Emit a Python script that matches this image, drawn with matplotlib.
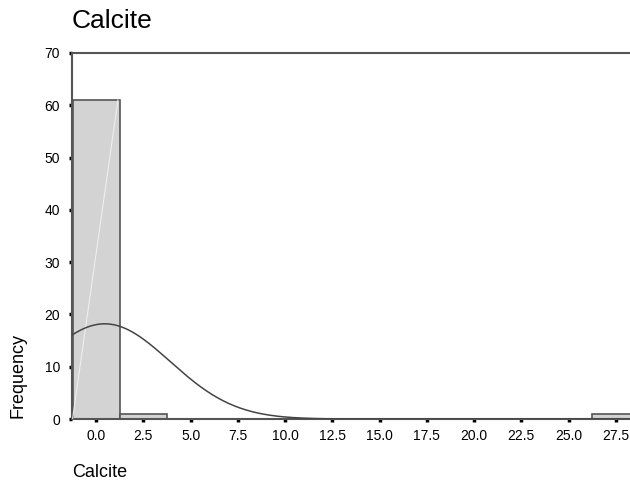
import matplotlib.pyplot as plt
import numpy as np

# histogramm-daten
bin_centers = [0.0, 2.5, 27.5]
freqs = [61, 1, 1]
bin_width = 2.5
n_total = 63
curve_mean = 0.45
curve_sd = 3.45

x_ticks = [0.0, 2.5, 5.0, 7.5, 10.0, 12.5, 15.0, 17.5, 20.0, 22.5, 25.0, 27.5]
y_ticks = [0, 10, 20, 30, 40, 50, 60, 70]

plt.rcParams['font.family'] = ['Liberation Sans', 'DejaVu Sans']

fig = plt.figure(figsize=(6.3, 4.93), dpi=100)
ax = fig.add_axes([0.1143, 0.150, 0.8857, 0.7425])

ax.bar(bin_centers, freqs, width=bin_width, color='#d3d3d3', edgecolor='#555555', linewidth=1.2, zorder=2)

# faint artefakt-linie im ersten balken
ax.plot([-1.25, 1.15], [0, 61], color='#eeeeee', linewidth=0.8, zorder=3)

# normalverteilungskurve
xs = np.linspace(-1.25, 28.75, 400)
ys = n_total * bin_width / (curve_sd * np.sqrt(2 * np.pi)) * np.exp(-0.5 * ((xs - curve_mean) / curve_sd) ** 2)
ax.plot(xs, ys, color='#444444', linewidth=1.1, zorder=4)

ax.set_xlim(-1.28, 28.25)
ax.set_ylim(0, 70)
ax.set_xticks(x_ticks)
ax.set_xticklabels([f'{t:.1f}' for t in x_ticks])
ax.set_yticks(y_ticks)

for side in ['top', 'left', 'bottom']:
    ax.spines[side].set_color('#555555')
    ax.spines[side].set_linewidth(1.5)
ax.spines['right'].set_visible(False)

ax.tick_params(axis='both', direction='out', length=2.5, width=2.5, color='black', labelsize=10)
ax.tick_params(axis='x', pad=5)
ax.tick_params(axis='y', pad=6)

fig.text(0.113, 0.957, 'Calcite', fontsize=19, ha='left', va='center')
fig.text(0.114, 0.024, 'Calcite', fontsize=13, ha='left', va='bottom')
fig.text(0.029, 0.238, 'Frequency', fontsize=13, rotation=90, ha='center', va='center')

plt.savefig('out.png', dpi=100)
